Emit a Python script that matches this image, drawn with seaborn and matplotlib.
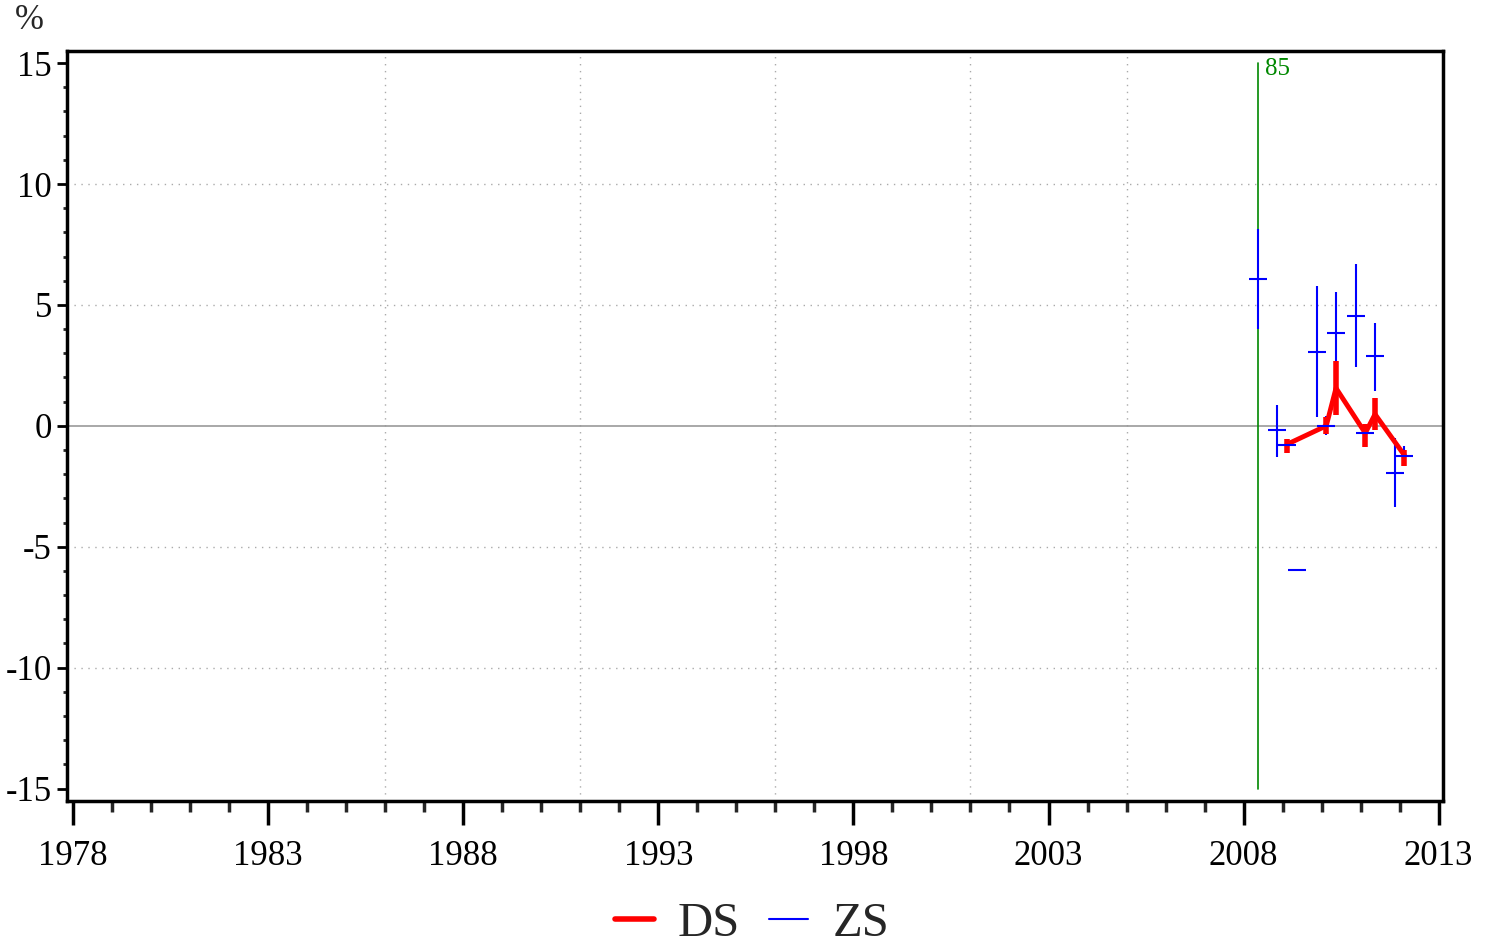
import matplotlib
matplotlib.use("Agg")
import matplotlib.pyplot as plt
from matplotlib.lines import Line2D
from matplotlib.ticker import MultipleLocator, FixedLocator
import seaborn as sns
import pandas as pd
import numpy as np

# ---- data ----
zs_x = [2008.37, 2008.87, 2009.12, 2009.38, 2009.88, 2010.12, 2010.37, 2010.87, 2011.12, 2011.37, 2011.87, 2012.12]
zs_y = [6.09, -0.19, -0.81, -5.97, 3.07, 0.0, 3.82, 4.56, -0.30, 2.87, -1.96, -1.25]
zs_lo = [4.0, -1.27, -1.13, -5.97, 0.36, -0.37, 2.10, 2.42, -0.58, 1.46, -3.37, -1.61]
zs_hi = [8.13, 0.87, -0.58, -5.97, 5.79, 0.39, 5.52, 6.69, -0.03, 4.24, -0.51, -0.83]

ds_x = [2009.12, 2010.12, 2010.37, 2011.12, 2011.37, 2012.12]
ds_y = [-0.76, 0.0, 1.56, -0.30, 0.48, -1.21]
ds_lo = [-1.13, -0.33, 0.45, -0.88, -0.19, -1.64]
ds_hi = [-0.54, 0.36, 2.70, 0.08, 1.17, -0.99]

event_x = [2008.38]
event_label = ["85"]

grid_years = [1986, 1991, 1996, 2001, 2005]
y_grid = [-10, -5, 5, 10]
y_ticks = [15, 10, 5, 0, -5, -10, -15]
y_ticklabels = ["15", "10", "5", "0", "-5", "-10", "-15"]
x_ticks = [1978, 1983, 1988, 1993, 1998, 2003, 2008, 2013]

zs_df = pd.DataFrame({"x": zs_x, "y": zs_y, "lo": zs_lo, "hi": zs_hi})
ds_df = pd.DataFrame({"x": ds_x, "y": ds_y, "lo": ds_lo, "hi": ds_hi})

sns.set_theme(style="white")
plt.rcParams["font.family"] = ["Liberation Serif", "DejaVu Serif"]

fig = plt.figure(figsize=(14.89, 9.46), dpi=100)
ax = fig.add_axes([0.045, 0.1536, 0.9243, 0.7925])

ax.set_xlim(1977.84, 2013.12)
ax.set_ylim(-15.5, 15.5)

# grid
for g in y_grid:
    ax.axhline(g, color="#aaaaaa", lw=1.0, ls=(0, (1, 4)), zorder=1)
for g in grid_years:
    ax.axvline(g, color="#aaaaaa", lw=1.0, ls=(0, (1, 4)), zorder=1)
ax.axhline(0, color="#999999", lw=1.2, zorder=1)

# event line
for ex, lab in zip(event_x, event_label):
    ax.plot([ex, ex], [-15, 15], color="#008800", lw=1.2, zorder=1.5)
    ax.text(ex + 0.17, 14.75, lab, color="#008800", fontsize=18, va="center", ha="left")

# ZS error bars
ax.vlines(zs_df["x"], zs_df["lo"], zs_df["hi"], color="blue", lw=1.5, zorder=2)

# DS
ax.vlines(ds_df["x"], ds_df["lo"], ds_df["hi"], color="red", lw=4, zorder=3)
sns.lineplot(data=ds_df, x="x", y="y", ax=ax, color="red", lw=3.5, zorder=3,
             sort=False, legend=False)

# ZS center markers
sns.scatterplot(data=zs_df, x="x", y="y", ax=ax, marker="_", s=160, color="blue",
                linewidth=1.5, zorder=4, legend=False)

ax.set_xlabel("")
ax.set_ylabel("")

# ticks
ax.xaxis.set_major_locator(FixedLocator(x_ticks))
ax.xaxis.set_minor_locator(MultipleLocator(1))
ax.set_yticks(y_ticks)
ax.set_yticklabels(y_ticklabels)
ax.yaxis.set_minor_locator(MultipleLocator(1))
ax.tick_params(axis="x", which="major", direction="out", length=17, width=2.5,
               labelsize=25, pad=11, bottom=True, colors="black")
ax.tick_params(axis="x", which="minor", direction="out", length=8, width=2.5, bottom=True)
ax.tick_params(axis="y", which="major", direction="out", length=7, width=2,
               labelsize=25, pad=4, left=True, colors="black")
ax.tick_params(axis="y", which="minor", direction="out", length=3, width=2, left=True)

for s in ax.spines.values():
    s.set_visible(True)
    s.set_color("black")
    s.set_linewidth(2.5)

fig.text(0.02, 0.978, "%", fontsize=25, ha="center", va="center")

handles = [Line2D([0], [0], color="red", lw=4), Line2D([0], [0], color="blue", lw=1.5)]
fig.legend(handles, ["DS", "ZS"], loc="center", bbox_to_anchor=(0.505, 0.023),
           ncol=2, frameon=False, fontsize=35, handlelength=0.8, columnspacing=0.6,
           handletextpad=0.5, borderpad=0.0)

fig.savefig("out.png", dpi=100, facecolor="white")
